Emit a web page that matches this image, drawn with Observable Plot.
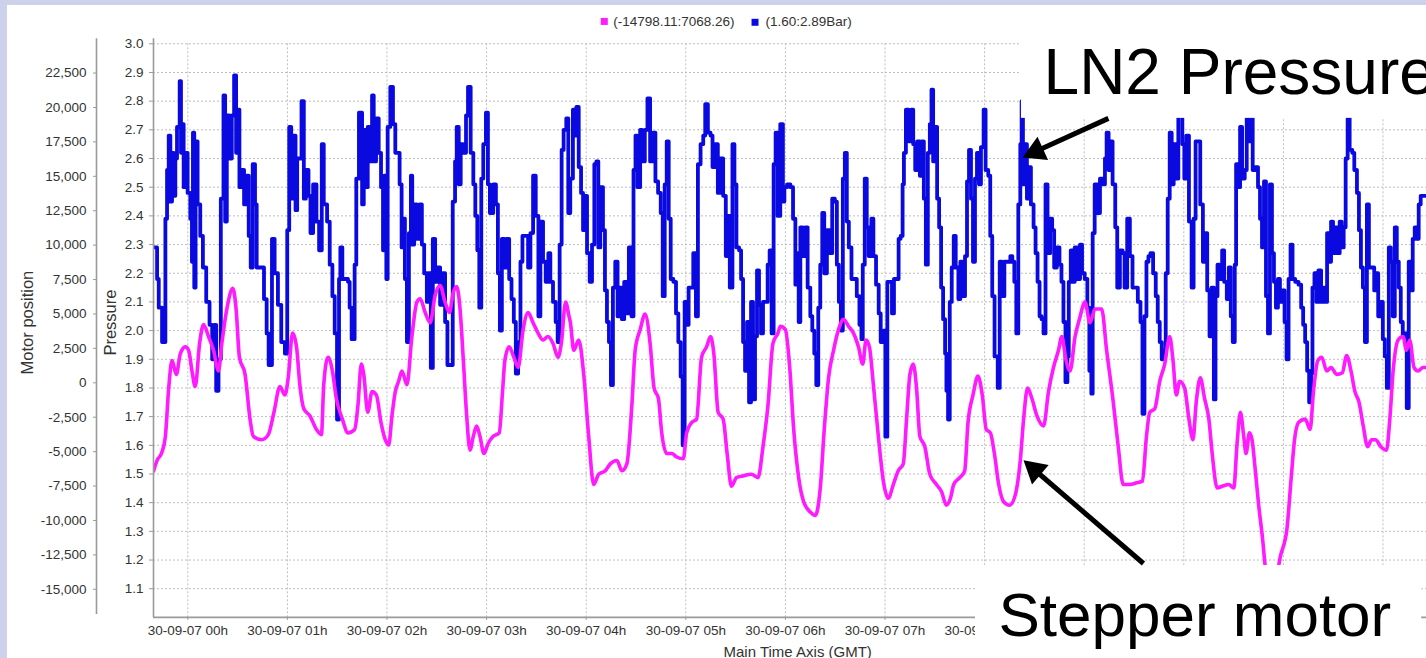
<!DOCTYPE html>
<html><head><meta charset="utf-8">
<script src="https://cdn.jsdelivr.net/npm/d3@7"></script>
<script src="https://cdn.jsdelivr.net/npm/@observablehq/plot@0.6"></script>
<style>
html,body{margin:0;padding:0;}
body{width:1426px;height:658px;overflow:hidden;background:#cdd2ec;position:relative;font-family:Arial,"Liberation Sans",sans-serif;}
#panel{position:absolute;left:7px;top:5px;width:1419px;height:653px;background:#fff;overflow:hidden;}
</style></head><body><div id="panel"></div>
<script>
// ---- data (minutes after 30-09-07 00:00 GMT) ----
const hourTicks = [0,1,2,3,4,5,6,7,8,9,10,11,12];
const labelledHours = [0,1,2,3,4,5,6,7,8]; // later labels sit under the "Stepper motor" box
const pressureTicks = [1.1,1.2,1.3,1.4,1.5,1.6,1.7,1.8,1.9,2.0,2.1,2.2,2.3,2.4,2.5,2.6,2.7,2.8,2.9,3.0];
const motorTicks = [-15000,-12500,-10000,-7500,-5000,-2500,0,2500,5000,7500,10000,12500,15000,17500,20000,22500];
const legendLabels = ["(-14798.11:7068.26)", "(1.60:2.89Bar)"];

// LN2 pressure [minute, bar]
const pressureSeries = [
[-20.5,2.29],[-18.5,2.18],[-17.5,2.08],[-15.5,1.96],[-13.5,2.39],[-12.5,2.56],[-11.5,2.68],[-10.5,2.45],[-9.5,2.62],[-8.5,2.47],[-7.5,2.60],[-6.5,2.71],[-4.9,2.87],[-4.1,2.62],[-3.5,2.72],[-2.5,2.50],[-1.5,2.62],[-0.1,2.48],[1.5,2.39],[2.5,2.24],[3.1,2.69],[3.9,2.15],[4.7,2.66],[5.9,2.44],[7.5,2.33],[9.1,2.22],[11.1,2.10],[13.1,2.02],[14.7,1.90],[15.9,2.02],[17.1,1.79],[18.5,1.90],[19.9,2.46],[21.5,2.82],[22.5,2.38],[23.5,2.75],[25.1,2.60],[26.5,2.75],[27.9,2.89],[29.1,2.62],[29.9,2.77],[31.1,2.50],[32.5,2.56],[33.9,2.44],[35.5,2.54],[36.7,2.33],[37.9,2.22],[39.1,2.58],[40.5,2.44],[41.5,2.22],[44.5,2.22],[45.9,2.11],[47.5,1.99],[48.7,1.88],[50.7,2.32],[52.3,2.20],[54.3,2.09],[56.3,1.96],[58.5,1.92],[59.9,2.35],[61.1,2.71],[62.3,2.46],[63.5,2.68],[64.9,2.42],[65.9,2.60],[68.5,2.80],[69.9,2.46],[71.1,2.56],[72.7,2.47],[73.9,2.34],[75.5,2.51],[77.5,2.38],[79.1,2.28],[80.7,2.65],[81.9,2.44],[83.9,2.38],[85.5,2.23],[87.1,2.12],[88.5,1.99],[89.9,1.69],[91.1,2.18],[91.9,2.29],[93.1,2.18],[96.5,2.17],[97.5,2.08],[98.7,1.97],[100.5,2.23],[101.5,2.53],[103.1,2.76],
[105,2.44],[106,2.70],[107,2.50],[108.4,2.71],[110,2.59],[111,2.82],[112,2.59],[113.4,2.74],[115,2.62],[116.4,2.50],[117.6,2.28],[118.4,2.54],[119.6,2.18],[120.4,2.71],[122,2.85],[123.6,2.72],[125,2.62],[127.6,2.51],[128.8,2.29],[130,2.39],[130.8,2.18],[132,1.96],[133.2,2.34],[134.4,2.54],[135.2,2.30],[136.4,2.44],[138,2.32],[139.6,2.44],[141,2.30],[142.4,2.20],[144,2.10],[145,2.20],[146.4,1.87],[147.6,2.32],[149,2.17],[150.4,2.22],[152,2.09],[153.6,2.20],[155,2.03],[156.4,1.88],[158.4,1.88],[159.6,2.45],[161,2.59],[162,2.71],[163.2,2.51],[164.4,2.65],[166,2.62],[167.6,2.75],[168.8,2.85],[170.4,2.62],[172,2.51],[173.2,2.40],[174.4,2.28],[175.6,2.08],[176.8,2.53],[178,2.65],[179.6,2.76],[180.8,2.51],[182,2.41],[184,2.51],[185.6,2.44],[186.8,2.20],[188,2.00],[189.2,2.32],[190.8,2.22],[192,2.32],[193.6,2.18],[195,2.11],[196.4,2.03],[197.6,1.85],[199,1.96],[200.4,2.24],[201.6,2.33],[203.6,2.33],[205,2.22],[206.4,2.34],[208,2.54],[209.6,2.40],[211.2,2.05],[212.4,2.38],[214,2.24],[215.6,2.17],[217.2,2.27],[218.4,2.17],[220,2.10],[221.6,2.03],[222.8,1.96],[224,2.30],[225.2,2.63],[226.4,2.70],[228,2.74],[229.2,2.41],[230.4,2.53],[232,2.77],
[232.9,2.68],[234.1,2.78],[235.5,2.57],[236.9,2.48],[238.1,2.35],[239.5,2.47],[240.5,2.27],[242.1,2.17],[243.5,2.30],[244.9,2.58],[246.1,2.59],[247.3,2.29],[248.5,2.50],[250.1,2.35],[251.3,2.14],[252.5,2.03],[253.7,1.96],[254.9,1.81],[256.1,2.15],[257.5,2.24],[258.9,2.05],[260.1,2.15],[261.5,2.04],[262.9,2.17],[264.5,2.06],[265.7,2.29],[267.3,2.05],[268.5,2.56],[269.7,2.68],[270.9,2.50],[272.5,2.70],[273.7,2.59],[275.3,2.70],[276.9,2.81],[278.5,2.59],[280.1,2.69],[281.7,2.52],[283.3,2.48],[284.9,2.41],[286.1,2.12],[287.3,2.51],[288.5,2.66],[289.7,2.39],[290.9,2.18],[292.5,2.17],[294.1,2.06],[295.5,1.96],[296.9,1.84],[298.1,1.60],[299.3,2.10],[300.5,2.02],[301.7,2.15],[303.3,2.15],[304.5,2.27],[306.1,2.05],[307.3,2.58],[308.9,2.65],[310.5,2.68],[311.7,2.79],[313.3,2.69],[314.9,2.68],[316.1,2.57],[317.7,2.65],[319.3,2.48],[320.9,2.60],[322.5,2.47],[324.1,2.26],[325.3,2.40],[326.5,2.15],[328.1,2.65],[329.3,2.51],[330.5,2.29],[332.1,2.28],[333.3,2.18],[334.5,1.96],[335.7,1.86],[336.9,2.03],[338.1,1.75],[339.3,2.10],[340.5,1.76],[341.7,1.98],[342.9,2.21],[344.1,2.09],[345.3,1.99],[346.5,2.10],[348.1,2.10],[349.3,2.23],[350.5,2.28],[351.7,1.99],[352.9,2.58],[354.1,2.69],[355.3,2.40],[356.9,2.72],[358.5,2.45],
[359.4,2.50],[361,2.51],[363,2.50],[364.6,2.39],[366,2.16],[367,2.27],[368,2.03],[369,2.36],[370.6,2.26],[372,2.36],[373.4,2.15],[375,2.05],[376.2,2.00],[377.4,1.92],[378.6,1.81],[379.8,2.08],[381,2.23],[382.2,2.41],[383.4,2.20],[385,2.35],[386.6,2.27],[388.2,2.46],[389.8,2.45],[391,2.23],[392.2,2.10],[393.4,2.00],[394.6,2.53],[395.8,2.62],[397,2.38],[398.2,2.29],[399.8,2.18],[401.4,2.18],[403,2.12],[404.6,2.02],[405.8,1.97],[406.6,2.23],[407.8,2.53],[409,2.36],[410.2,2.26],[411.8,2.39],[413,2.26],[414.6,2.16],[416.2,2.06],[417.4,1.96],[419,2.00],[420.2,1.63],[421.4,2.17],[423,2.17],[424.2,2.06],[425.4,2.18],[427,2.18],[428.2,2.32],[429.4,2.33],[430.6,2.51],[431.4,2.62],[432.6,2.77],[434.2,2.66],[435.8,2.77],[437,2.65],[438.2,2.56],[439.4,2.66],[441,2.54],[442.2,2.66],[443.4,2.46],[444.6,2.23],[445.8,2.62],[447,2.72],[448,2.84],[449,2.59],[450.2,2.71],[451.4,2.46],[452.6,2.36],[453.8,2.15],[455,2.04],[456.2,1.92],[457,1.79],[458,1.69],[459,2.10],[460.2,2.22],[461.4,2.33],[462.6,2.22],[464.2,2.11],[465.4,2.24],[466.6,2.12],[468.2,2.26],[469.4,2.52],[470.6,2.63],[471.8,2.46],[473,2.24],[474.2,2.53],[475.4,2.62],[476.6,2.51],[477.8,2.64],[479.4,2.77],[480.6,2.56],[482.2,2.54],[483.4,2.33],[484.6,2.12],[486,1.91],
[487.9,1.80],[489.1,2.24],[490.5,2.12],[491.9,2.24],[493.5,2.24],[495.5,2.26],[496.7,2.24],[497.9,2.17],[499.1,1.99],[500.3,2.44],[501.5,2.65],[502.3,2.80],[503.1,2.51],[504.3,2.65],[505.5,2.46],[506.7,2.57],[507.9,2.44],[509.5,2.36],[510.7,2.27],[511.9,2.17],[513.1,2.05],[514.3,2.04],[515.5,1.99],[516.7,2.51],[517.9,2.27],[519.5,2.39],[520.7,2.35],[521.9,2.22],[523.5,2.29],[525.1,2.23],[526.3,2.17],[527.5,2.03],[528.7,1.82],[529.9,1.91],[530.7,2.17],[531.9,2.28],[533.1,2.17],[534.3,2.29],[535.9,2.18],[537.5,2.30],[538.7,2.20],[540.3,2.18],[541.9,2.08],[543.1,1.86],[544.3,1.78],[545.1,2.34],[546.3,2.51],[547.9,2.41],[549.5,2.53],[551.1,2.51],[552.5,2.60],[553.5,2.69],[554.7,2.56],[555.9,2.66],[557.1,2.51],[558.7,2.36],[559.9,2.15],[561.5,2.28],[563.1,2.27],[564.3,2.15],[565.9,2.39],[567.5,2.26],[569.1,2.15],[570.7,2.15],[572.3,2.10],[573.9,2.03],[575.1,1.71],[576.3,2.05],[577.5,2.24],[578.7,2.26],[579.9,2.27],[581.5,2.20],[583.1,2.12],[584.3,2.03],[585.5,1.96],[586.7,1.90],[587.9,1.93],[589.1,2.20],[590.3,2.46],[591.5,2.69],[592.7,2.51],[593.9,2.65],[595.5,2.53],[596.7,2.78],[597.9,2.82],[599.1,2.65],[600.3,2.53],[601.5,2.68],[603.1,2.38],[604.7,2.15],[605.9,2.39],[607.1,2.66],[608.7,2.66],[609.9,2.44],[611.5,2.24],
[613.1,2.34],[614.1,2.14],[615.5,1.98],[616.7,2.15],[618.1,1.76],[619.1,2.12],[620.3,2.23],[621.5,2.18],[623.1,2.28],[624.3,2.17],[625.9,2.11],[627.1,2.22],[628.3,2.05],[629.5,1.96],[630.7,2.23],[631.5,2.58],[632.7,2.50],[633.9,2.71],[635.1,2.53],[636.7,2.56],[637.9,2.80],[639.1,2.66],[640.3,2.82],[641.5,2.56],[643.1,2.57],[644.7,2.50],[645.9,2.39],[647.1,2.29],[648.3,2.52],[649.5,2.12],[650.7,1.99],[651.9,2.51],[653.1,2.27],[654.3,2.17],[655.5,2.08],[656.7,2.18],[657.9,2.10],[659.5,2.14],[660.7,2.03],[661.9,1.90],[663.1,2.18],[664.3,2.30],[665.5,2.18],[667.1,2.17],[669.1,2.16],[670.7,2.08],[671.9,2.02],[673.1,1.96],[674.3,1.86],[675.5,1.75],[676.7,1.85],[677.5,2.15],[678.7,2.20],[679.9,2.10],[681.1,2.21],[682.7,2.10],[684.3,2.15],[685.5,2.10],[686.3,2.34],[687.5,2.24],[688.7,2.38],[689.9,2.27],[691.1,2.36],[692.7,2.27],[693.9,2.38],[695.1,2.29],[696.3,2.36],[697.5,2.60],[698.7,2.80],[699.9,2.63],[701.5,2.62],[702.7,2.56],[704.3,2.48],[705.5,2.35],[706.7,2.22],[707.9,2.15],[709.1,1.96],[710.3,2.44],[711.5,2.22],[713.1,2.22],[714.7,2.14],[715.9,2.20],[717.1,2.05],[718.7,2.10],[719.9,1.97],[721.1,1.91],[722.3,1.80],[723.5,2.29],[724.7,2.24],[725.9,2.05],[727.1,2.36],[728.3,2.24],[729.5,2.15],[730.7,2.03],[731.9,1.98],[733.1,1.99],[734.3,1.73],[735.5,2.24],[736.7,2.14],[737.9,2.32],[739.1,2.36],[740.3,2.32],[741.5,2.44],[742.7,2.47],[746.2,2.47]
];

// Stepper motor position [minute, steps]
const motorSeries = [
[-20.6,-6400],[-18.5,-5640],[-15.5,-5015],[-13.5,-3890],[-11.5,-390],[-9.5,1610],[-6.9,610],[-4.5,2110],[-1.5,2610],[0.5,2360],[2.5,860],[4.5,-265],[7.1,2860],[9.5,4235],[12.5,3360],[15.5,2360],[18.5,860],[20.5,2860],[23.9,5610],[27.1,6860],[29.1,5360],[31.1,1860],[34.5,610],[37.5,-2640],[39.5,-3890],[44.5,-4140],[48.5,-3765],[51.9,-2140],[55.5,-265],[58.5,-890],[60.5,360],[63.1,3610],[65.5,2610],[67.5,-140],[69.9,-1890],[73.5,-2390],[77.5,-3390],[80.5,-3765],[81.9,-140],[84.5,1860],[87.1,860],[89.5,-1140],[93.1,-2640],[96.5,-3640],[100.5,-3390],[102.5,-1640],[104.5,1360],
[106,610],[108.4,-2140],[111,-640],[113.6,-890],[116.4,-2890],[119,-4140],[121,-4515],[123,-2390],[125,-640],[127,110],[129,860],[132,-140],[135,3360],[138,5860],[140,6110],[143,5110],[146,4360],[149,6360],[152,7068],[155,5860],[157.6,5110],[160,6610],[162,7000],[164,5360],[166,1610],[168,-2390],[170,-4890],[172,-3890],[174,-3140],[176,-3890],[178.4,-5140],[181,-4390],[184,-3890],[187.6,-3640],[189.6,-640],[191,1610],[193.6,2610],[196.4,1860],[199,1110],[202,3860],[205,5110],[208,4360],[211,3610],[214,3110],[217,3360],[220,2860],[223,1860],[225,2860],[227.6,5860],[229.6,4860],
[230.5,4360],[232.5,2360],[235.5,3110],[238.5,610],[241.5,-3890],[244.5,-7390],[247.5,-6640],[251.5,-6390],[254.5,-5890],[258.5,-5640],[261.5,-6390],[264.5,-5890],[267.5,-1640],[269.5,2360],[272.5,3860],[275.5,4985],[278.5,2860],[280.9,-390],[283.5,-1140],[285.5,-3640],[288.5,-5140],[291.5,-5140],[294.5,-5390],[298.5,-5515],[300.5,-3640],[303.5,-2890],[306.5,-2640],[309.5,1860],[312.5,2610],[314.9,3360],[316.9,2110],[319.5,-2140],[322.5,-2640],[324.9,-5140],[327.5,-7515],[330.5,-6890],[334.5,-6765],[339.5,-6640],[343.5,-6890],[346.5,-4640],[349.5,-1640],[352.5,2860],[355.5,3610],
[357,4110],[360,3860],[362.6,1110],[365,-3390],[368,-6890],[371,-8640],[375,-9390],[378,-9640],[381,-7640],[383.4,-3390],[386,360],[389,2360],[392,3860],[395,4610],[398,4110],[401,3610],[404,2610],[406.6,1360],[408.6,3110],[410.6,2610],[413,-140],[416,-3890],[419,-7140],[422,-8390],[425,-7390],[428,-6390],[431,-5890],[433,-2640],[435,610],[437,1360],[439,-390],[441,-3890],[444,-4640],[447,-6640],[451,-7390],[454,-7890],[457,-8890],[459.4,-8390],[461.4,-7390],[465,-6890],[468,-6390],[470,-2890],[473,-890],[476,485],[478.6,-890],[481,-3390],
[483.5,-3640],[485.9,-5140],[488.5,-7390],[491.5,-8640],[495.1,-8890],[498.5,-8140],[501.5,-5640],[503.5,-2640],[505.9,-390],[508.5,-1140],[511.5,-2390],[515.5,-3140],[518.5,-640],[521.5,1110],[524.5,2360],[526.5,3360],[529.1,1610],[531.5,860],[534.5,3360],[537.1,4610],[540.5,5860],[543.5,4360],[546.5,5360],[550.5,5360],[553.5,2360],[557.5,-1390],[560.5,-4640],[563.5,-7390],[567.5,-7390],[571.5,-7265],[575.1,-7140],[577.5,-3890],[579.5,-2140],[582.5,-1890],[585.5,110],[588.5,1360],[591.5,3360],[593.5,1610],[595.5,-890],[597.5,110],[600.5,-390],[603.1,-2640],[605.5,-4140],[607.5,-1390],[609.9,360],[612.5,-1140],
[615.1,-2640],[617.1,-5140],[620.1,-7640],[623.1,-7515],[627.1,-7390],[630.1,-7640],[632.1,-4390],[634.1,-2140],[636.1,-3890],[637.5,-5140],[639.5,-3640],[641.1,-4140],[643.1,-6390],[645.1,-8890],[647.5,-11390],[649.1,-13390],[652.1,-14798],[655.1,-14500],[658.1,-12640],[662.1,-10640],[664.7,-6890],[666.7,-4140],[669.1,-2890],[673.1,-2640],[676.1,-3390],[678.1,-640],[680.7,1610],[683.1,1860],[686.1,860],[688.7,1110],[692.1,610],[695.5,735],[698.1,1985],[700.7,860],[703.1,-640],[705.5,-1390],[708.1,-3140],[710.7,-4640],[713.1,-4140],[715.5,-4140],[718.7,-4640],[722.1,-4890],[724.1,-2640],[726.1,860],[729.1,3110],[732.1,3360],[734.1,2360],[736.1,3110],[738.7,1110],[741.1,860],[744.1,1110],[746.2,1110]
];

// ---- helpers ----
const day0 = Date.UTC(2007, 8, 30);
const at = m => new Date(day0 + m * 60000);
const atHour = h => at(h * 60);
const xStart = -20.66, xEnd = 746.2;
// motor axis is drawn against the pressure scale: 0 steps <-> 1.818 bar, 2500 steps <-> 0.12 bar
const motorZero = 1.818, stepsPerBar = 2500 / 0.12;
const toAxis = m => motorZero + m / stepsPerBar;
const fromAxis = p => (p - motorZero) * stepsPerBar;
const fmtInt = d3.format(",");
const motorFmt = p => { const v = Math.round(fromAxis(p) / 2500) * 2500; return (v < 0 ? "-" : "") + fmtInt(Math.abs(v)); };
const hourFmt = d => `30-09-07 ${String(d.getUTCHours()).padStart(2, "0")}h`;

const MAGENTA = "#ff1aff", BLUE = "#0a0ae0", AXIS = "#9a9a9a", TXT = "#333";
const grid = {stroke: "#bdbdbd", strokeOpacity: 1, strokeDasharray: "2,2"};

const chart = Plot.plot({
  width: 1419, height: 653,
  marginLeft: 146, marginRight: 0, marginTop: 38.3, marginBottom: 41.1,
  style: {background: "white", fontFamily: "Arial, 'Liberation Sans', sans-serif", fontSize: "13.5px", color: TXT},
  x: {type: "utc", domain: [at(xStart), at(xEnd)]},
  y: {domain: [1.0, 3.0]},
  marks: [
    Plot.gridY(pressureTicks, grid),
    Plot.gridX(hourTicks.map(atHour), grid),
    Plot.line(pressureSeries, {x: d => at(d[0]), y: d => d[1], stroke: BLUE, strokeWidth: 3.8, curve: "step-after", clip: true}),
    Plot.line(motorSeries, {x: d => at(d[0]), y: d => toAxis(d[1]), stroke: MAGENTA, strokeWidth: 3.6, curve: "monotone-x", clip: true}),
    // axis lines
    Plot.ruleY([1.0], {stroke: AXIS, strokeWidth: 1.6}),
    Plot.ruleX([at(xStart)], {y1: 3.018, y2: 1.0, stroke: AXIS, strokeWidth: 1.6}),
    Plot.ruleX([at(xStart)], {y1: 3.018, y2: 1.01, stroke: AXIS, strokeWidth: 1.6, dx: -57}),
    // pressure axis
    Plot.axisY(pressureTicks, {anchor: "left", tickSize: 4, tickPadding: 6, tickFormat: d3.format(".1f"), stroke: AXIS, fill: TXT, fontSize: 13.5, label: null}),
    // motor axis (secondary)
    Plot.axisY(motorTicks.map(toAxis), {anchor: "left", dx: -57, tickSize: 3, tickPadding: 7, tickFormat: motorFmt, stroke: AXIS, fill: TXT, fontSize: 13.5, label: null}),
    // time axis
    Plot.axisX(hourTicks.map(atHour), {anchor: "bottom", tickSize: 3, tickPadding: 5, tickFormat: () => "", stroke: AXIS, label: null}),
    Plot.axisX(labelledHours.map(atHour), {anchor: "bottom", tickSize: 0, tickPadding: 8, tickFormat: hourFmt, fill: TXT, fontSize: 13.5, label: null}),
    // axis titles
    Plot.text(["Motor position"], {x: at(xStart), y: 2.028, dx: -126, rotate: -90, fontSize: 16.5, fill: TXT, textAnchor: "middle"}),
    Plot.text(["Pressure"], {x: at(xStart), y: 2.028, dx: -43, rotate: -90, fontSize: 16.5, fill: TXT, textAnchor: "middle"}),
    Plot.text(["Main Time Axis (GMT)"], {x: at(367.4), y: 0.877, fontSize: 15, fill: TXT, textAnchor: "middle"}),
    // legend
    Plot.dot([0], {x: at(250.9), y: 3.078, symbol: "square", r: 3.95, fill: MAGENTA, stroke: "none"}),
    Plot.text([legendLabels[0]], {x: at(256.3), y: 3.076, fontSize: 13.5, fill: TXT, textAnchor: "start"}),
    Plot.dot([0], {x: at(341.7), y: 3.075, symbol: "square", r: 3.95, fill: BLUE, stroke: "none"}),
    Plot.text([legendLabels[1]], {x: at(348.0), y: 3.076, fontSize: 13.5, fill: TXT, textAnchor: "start"}),
    // annotation boxes
    Plot.rectY([0], {x1: at(502.2), x2: at(xEnd), y1: 2.740, y2: 3.133, fill: "white"}),
    Plot.rectY([0], {x1: at(474.5), x2: at(743.3), y1: 0.857, y2: 1.181, fill: "white"}),
    // annotation labels
    Plot.text(["LN2 Pressure"], {x: at(515.5), y: 2.897, fontSize: 64, fill: "black", textAnchor: "start", fontFamily: "Arial, 'Liberation Sans', sans-serif"}),
    Plot.text(["Stepper motor"], {x: at(488.3), y: 1.006, fontSize: 62, fill: "black", textAnchor: "start", fontFamily: "Arial, 'Liberation Sans', sans-serif"}),
    // arrows: shaft + filled head
    Plot.link([0], {x1: at(554.6), y1: 2.740, x2: at(511.0), y2: 2.625, stroke: "black", strokeWidth: 5}),
    Plot.dot([0], {x: at(511.0), y: 2.625, symbol: "triangle", r: 9.5, rotate: 245.6, fill: "black", stroke: "none"}),
    Plot.link([0], {x1: at(575.7), y1: 1.188, x2: at(510.2), y2: 1.514, stroke: "black", strokeWidth: 5}),
    Plot.dot([0], {x: at(510.2), y: 1.514, symbol: "triangle", r: 9.5, rotate: 310.6, fill: "black", stroke: "none"})
  ]
});
document.getElementById("panel").appendChild(chart);
</script>
</body></html>
